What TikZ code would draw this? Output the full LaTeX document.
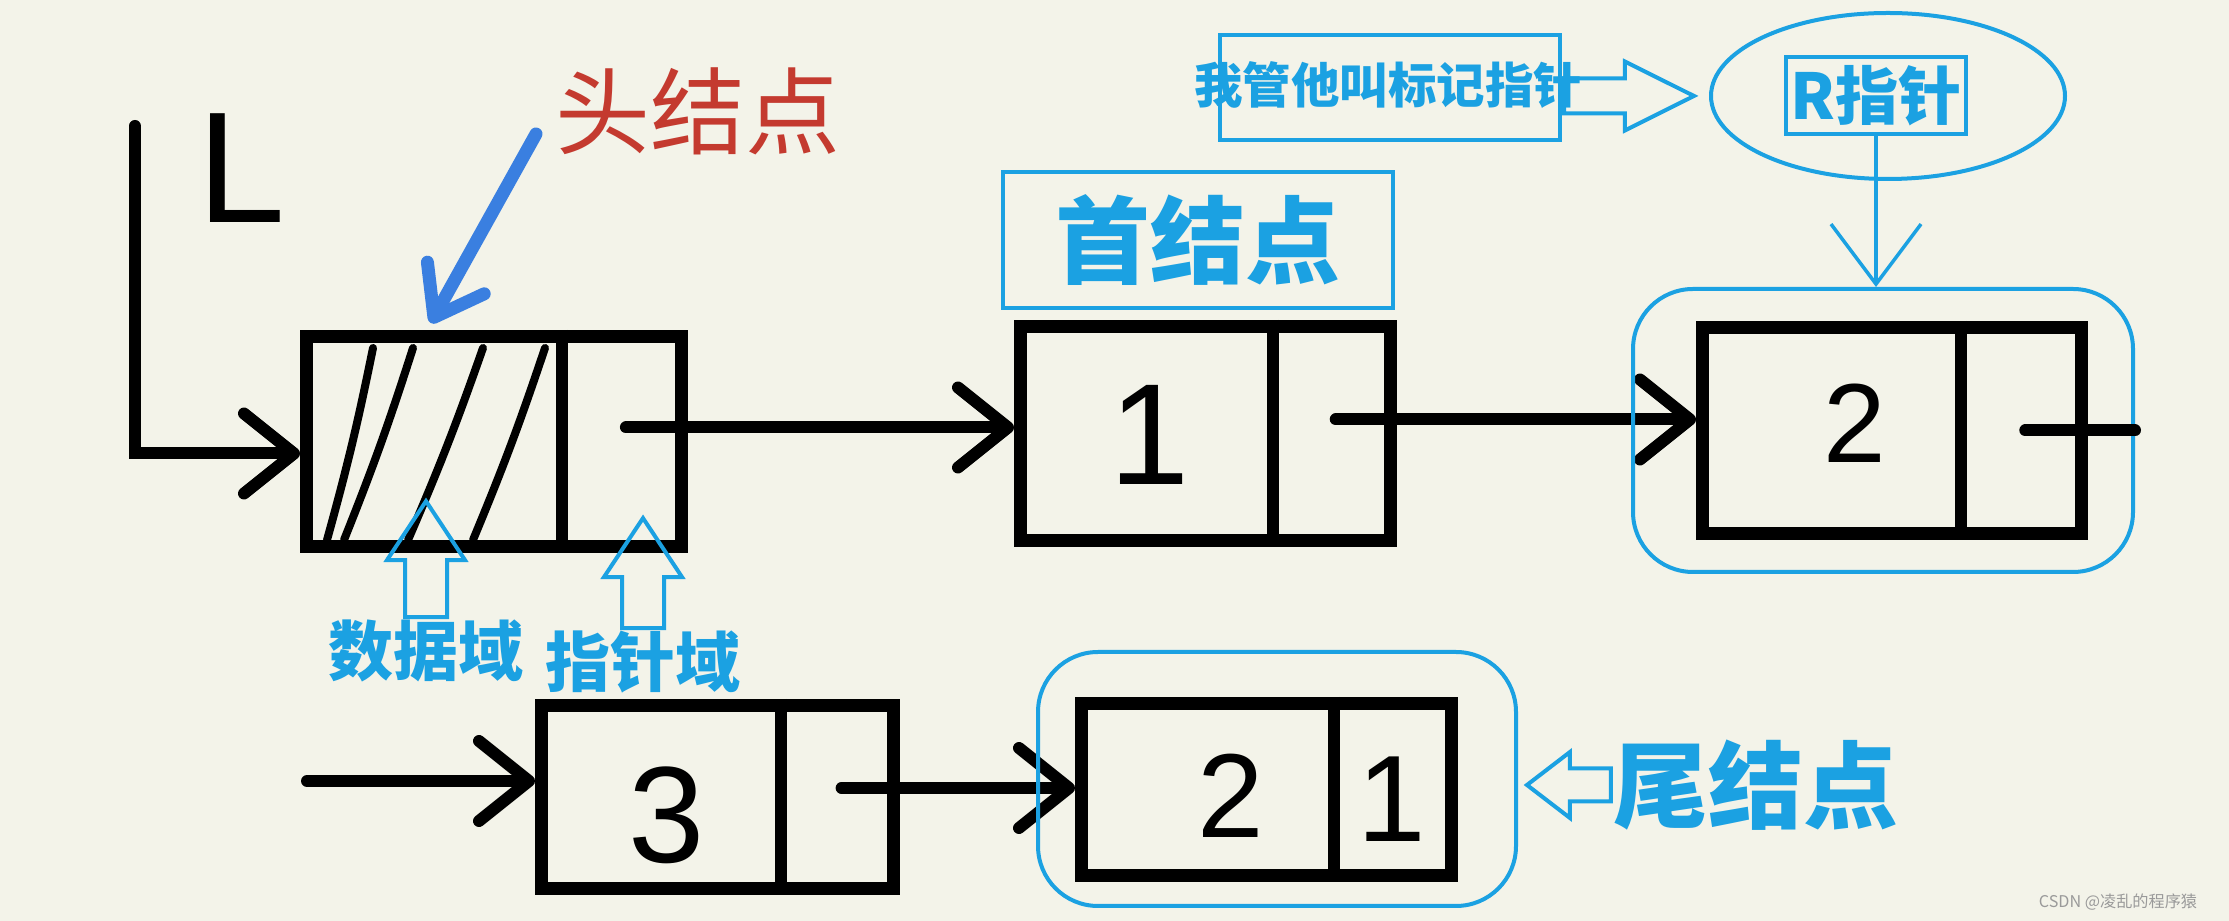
\documentclass[tikz,border=0pt]{standalone}
\usepackage{fontspec}
\setmainfont{Liberation Sans}
\newfontfamily\cjk{Noto Sans CJK SC}
\usetikzlibrary{positioning,calc,arrows.meta,shapes.geometric,shapes.arrows}
\definecolor{bgCream}{HTML}{F3F3E9}
\definecolor{lblBlue}{HTML}{1BA1E2}
\definecolor{ptrBlue}{HTML}{3A7FE0}
\definecolor{noteRed}{HTML}{C43A2F}
\definecolor{markGrey}{HTML}{9A9A9A}
\tikzset{
  list node/.style={rectangle, draw=black, line width=1.3mm, inner sep=0pt},
  div line/.style={line width=1.2mm},
  hatch line/.style={line width=0.8mm, line cap=round},
  link/.style={line width=1.2mm, line cap=round,
    -{Straight Barb[length=5mm,width=8mm,round]}},
  thin link/.style={draw=lblBlue, line width=0.35mm,
    -{Straight Barb[length=6mm,width=9mm]}},
  note arrow/.style={draw=ptrBlue, line width=1.3mm, line cap=round,
    -{Straight Barb[length=4.5mm,width=6.5mm,round]}},
  blue frame/.style={rectangle, draw=lblBlue, line width=0.4mm, inner sep=0pt},
  wrap frame/.style={blue frame, rounded corners=6mm},
  hollow arrow/.style={single arrow, draw=lblBlue, line width=0.4mm,
    inner xsep=0pt, single arrow head indent=0pt},
  big label/.style={text=lblBlue, inner sep=0pt,
    font=\cjk\bfseries\fontsize{27}{27}\selectfont},
  field label/.style={text=lblBlue, inner sep=0pt,
    font=\cjk\bfseries\fontsize{18.5}{18.5}\selectfont},
  digit/.style={inner sep=0pt},
}
\newcommand{\nodeDivider}[1]{%
  \draw[div line] ($(#1.north west)!0.675!(#1.north east)$)
    -- ($(#1.south west)!0.675!(#1.south east)$);}

\begin{document}
\begin{tikzpicture}[x=0.1mm, y=-0.1mm]
\useasboundingbox (0,0) rectangle (2229,921);
\fill[bgCream] (0,0) rectangle (2229,921);

% list nodes
\node[list node, minimum width=37.5mm, minimum height=21mm] (head) at (494,441.5) {};
\node[list node, minimum width=37mm, minimum height=21.4mm] (n1) at (1205.5,433.5) {};
\node[list node, minimum width=37.9mm, minimum height=20.6mm] (n2) at (1892,430.5) {};
\node[list node, minimum width=35.2mm, minimum height=18.3mm] (n3) at (717.5,797) {};
\node[list node, minimum width=37mm, minimum height=17.2mm] (n4) at (1266.5,789.5) {};
\foreach \n in {head,n1,n2,n3,n4} {\nodeDivider{\n}}

% hatching of the head node data field
\foreach \xa/\xb in {373/327, 413/344, 483/408, 545/473}
  \draw[hatch line] (\xa,348) to[bend left=2] (\xb,540);

% data
\node[digit, font=\fontsize{41}{41}\selectfont] (d1) at (1150,435) {1};
\node[digit, font=\fontsize{32}{32}\selectfont] (d2) at (1855,423) {2};
\node[digit, font=\fontsize{39}{39}\selectfont] (d3) at (667,815) {3};
\node[digit, font=\fontsize{34}{34}\selectfont] (d4) at (1231,796) {2};
\node[digit, font=\fontsize{35}{35}\selectfont] (p4) at (1392,799) {1};

% head pointer L
\node[inner sep=0pt, font=\fontsize{45}{45}\selectfont] (Lname) at (241,168) {L};
\coordinate (Ltop) at (135,126);
\draw[link] (Ltop) |- ($(head.west)+(0,12)$);

% pointer fields
\coordinate (hptr) at ($(head.west)!0.84!(head.east)+(0,-14)$);
\coordinate (n1ptr) at ($(n1.west)!0.84!(n1.east)+(0,-14)$);
\coordinate (n2ptr) at ($(n2.west)!0.84!(n2.east)$);
\coordinate (n3ptr) at ($(n3.west)!0.84!(n3.east)+(0,-9)$);
\draw[link] (hptr) -- (hptr -| n1.west);
\draw[link] (n1ptr) -- (n1ptr -| n2.west);
\coordinate (n3in) at (307,781);
\draw[link] (n3in) -- (n3in -| n3.west);
\draw[link] (n3ptr) -- (n3ptr -| n4.west);

% blue frames
\node[wrap frame, minimum width=50mm, minimum height=28.3mm] (n2wrap) at (1883,430.5) {};
\node[wrap frame, minimum width=47.8mm, minimum height=25.4mm] (n4wrap) at (1277,779) {};
\draw[line width=1.2mm, line cap=round] (n2ptr) -- (n2ptr -| n2wrap.east);

% labels
\node[big label, blue frame, minimum width=39mm, minimum height=13.6mm] (firstlbl) at (1198,240) {首结点};
\node[big label] (taillbl) at (1756,785) {尾结点};
\node[field label] (datalbl) at (426,651) {数据域};
\node[field label] (ptrlbl) at (643,662) {指针域};
\node[text=noteRed, inner sep=0pt, font=\cjk\fontsize{27}{27}\selectfont] (headnote) at (698,111) {头结点};

\node[hollow arrow, rotate=90, anchor=tail, minimum height=11.6mm, inner ysep=1.9mm,
  single arrow head extend=1.8mm, single arrow tip angle=67] (dataarr) at (datalbl.north) {};
\node[hollow arrow, rotate=90, anchor=tail, minimum height=11mm, inner ysep=1.9mm,
  single arrow head extend=1.8mm, single arrow tip angle=67] (ptrarr) at (ptrlbl.north) {};
\node[hollow arrow, rotate=180, anchor=tail, minimum height=8.4mm, inner ysep=1.45mm,
  single arrow head extend=1.65mm, single arrow tip angle=75] (tailarr) at (taillbl.west) {};

% head node note
\coordinate (hdtail) at (536,134);
\coordinate (hdtip) at ($(head.north west)!0.327!(head.north east)$);
\draw[note arrow, shorten >=0.8mm] (hdtail) -- (hdtip);

% R pointer
\node[ellipse, draw=lblBlue, line width=0.4mm, minimum width=35.4mm, minimum height=16.6mm] (rell) at (1888,96) {};
\node[blue frame, text=lblBlue, minimum width=18mm, minimum height=7.7mm,
  font=\cjk\bfseries\fontsize{18}{18}\selectfont] (rbox) at (1876,95.5) {R指针};
\draw[thin link] (rbox.south) -- (rbox.south |- n2wrap.north);

% mark pointer
\node[blue frame, minimum width=34mm, minimum height=10.5mm] (markbox) at (1390,87.5) {};
\node[text=lblBlue, inner sep=0pt, font=\cjk\bfseries\fontsize{13.8}{13.8}\selectfont] (marktxt) at (1388,85) {我管他叫标记指针};
\node[hollow arrow, anchor=tail, minimum height=13mm, inner ysep=1.55mm,
  single arrow head extend=1.7mm, single arrow tip angle=53] (markarr) at (markbox.east |- rell.center) {};

\node[text=markGrey, inner sep=0pt, font=\cjk\fontsize{4.6}{4.6}\selectfont] (credit) at (2118,902) {CSDN @凌乱的程序猿};
\end{tikzpicture}
\end{document}
